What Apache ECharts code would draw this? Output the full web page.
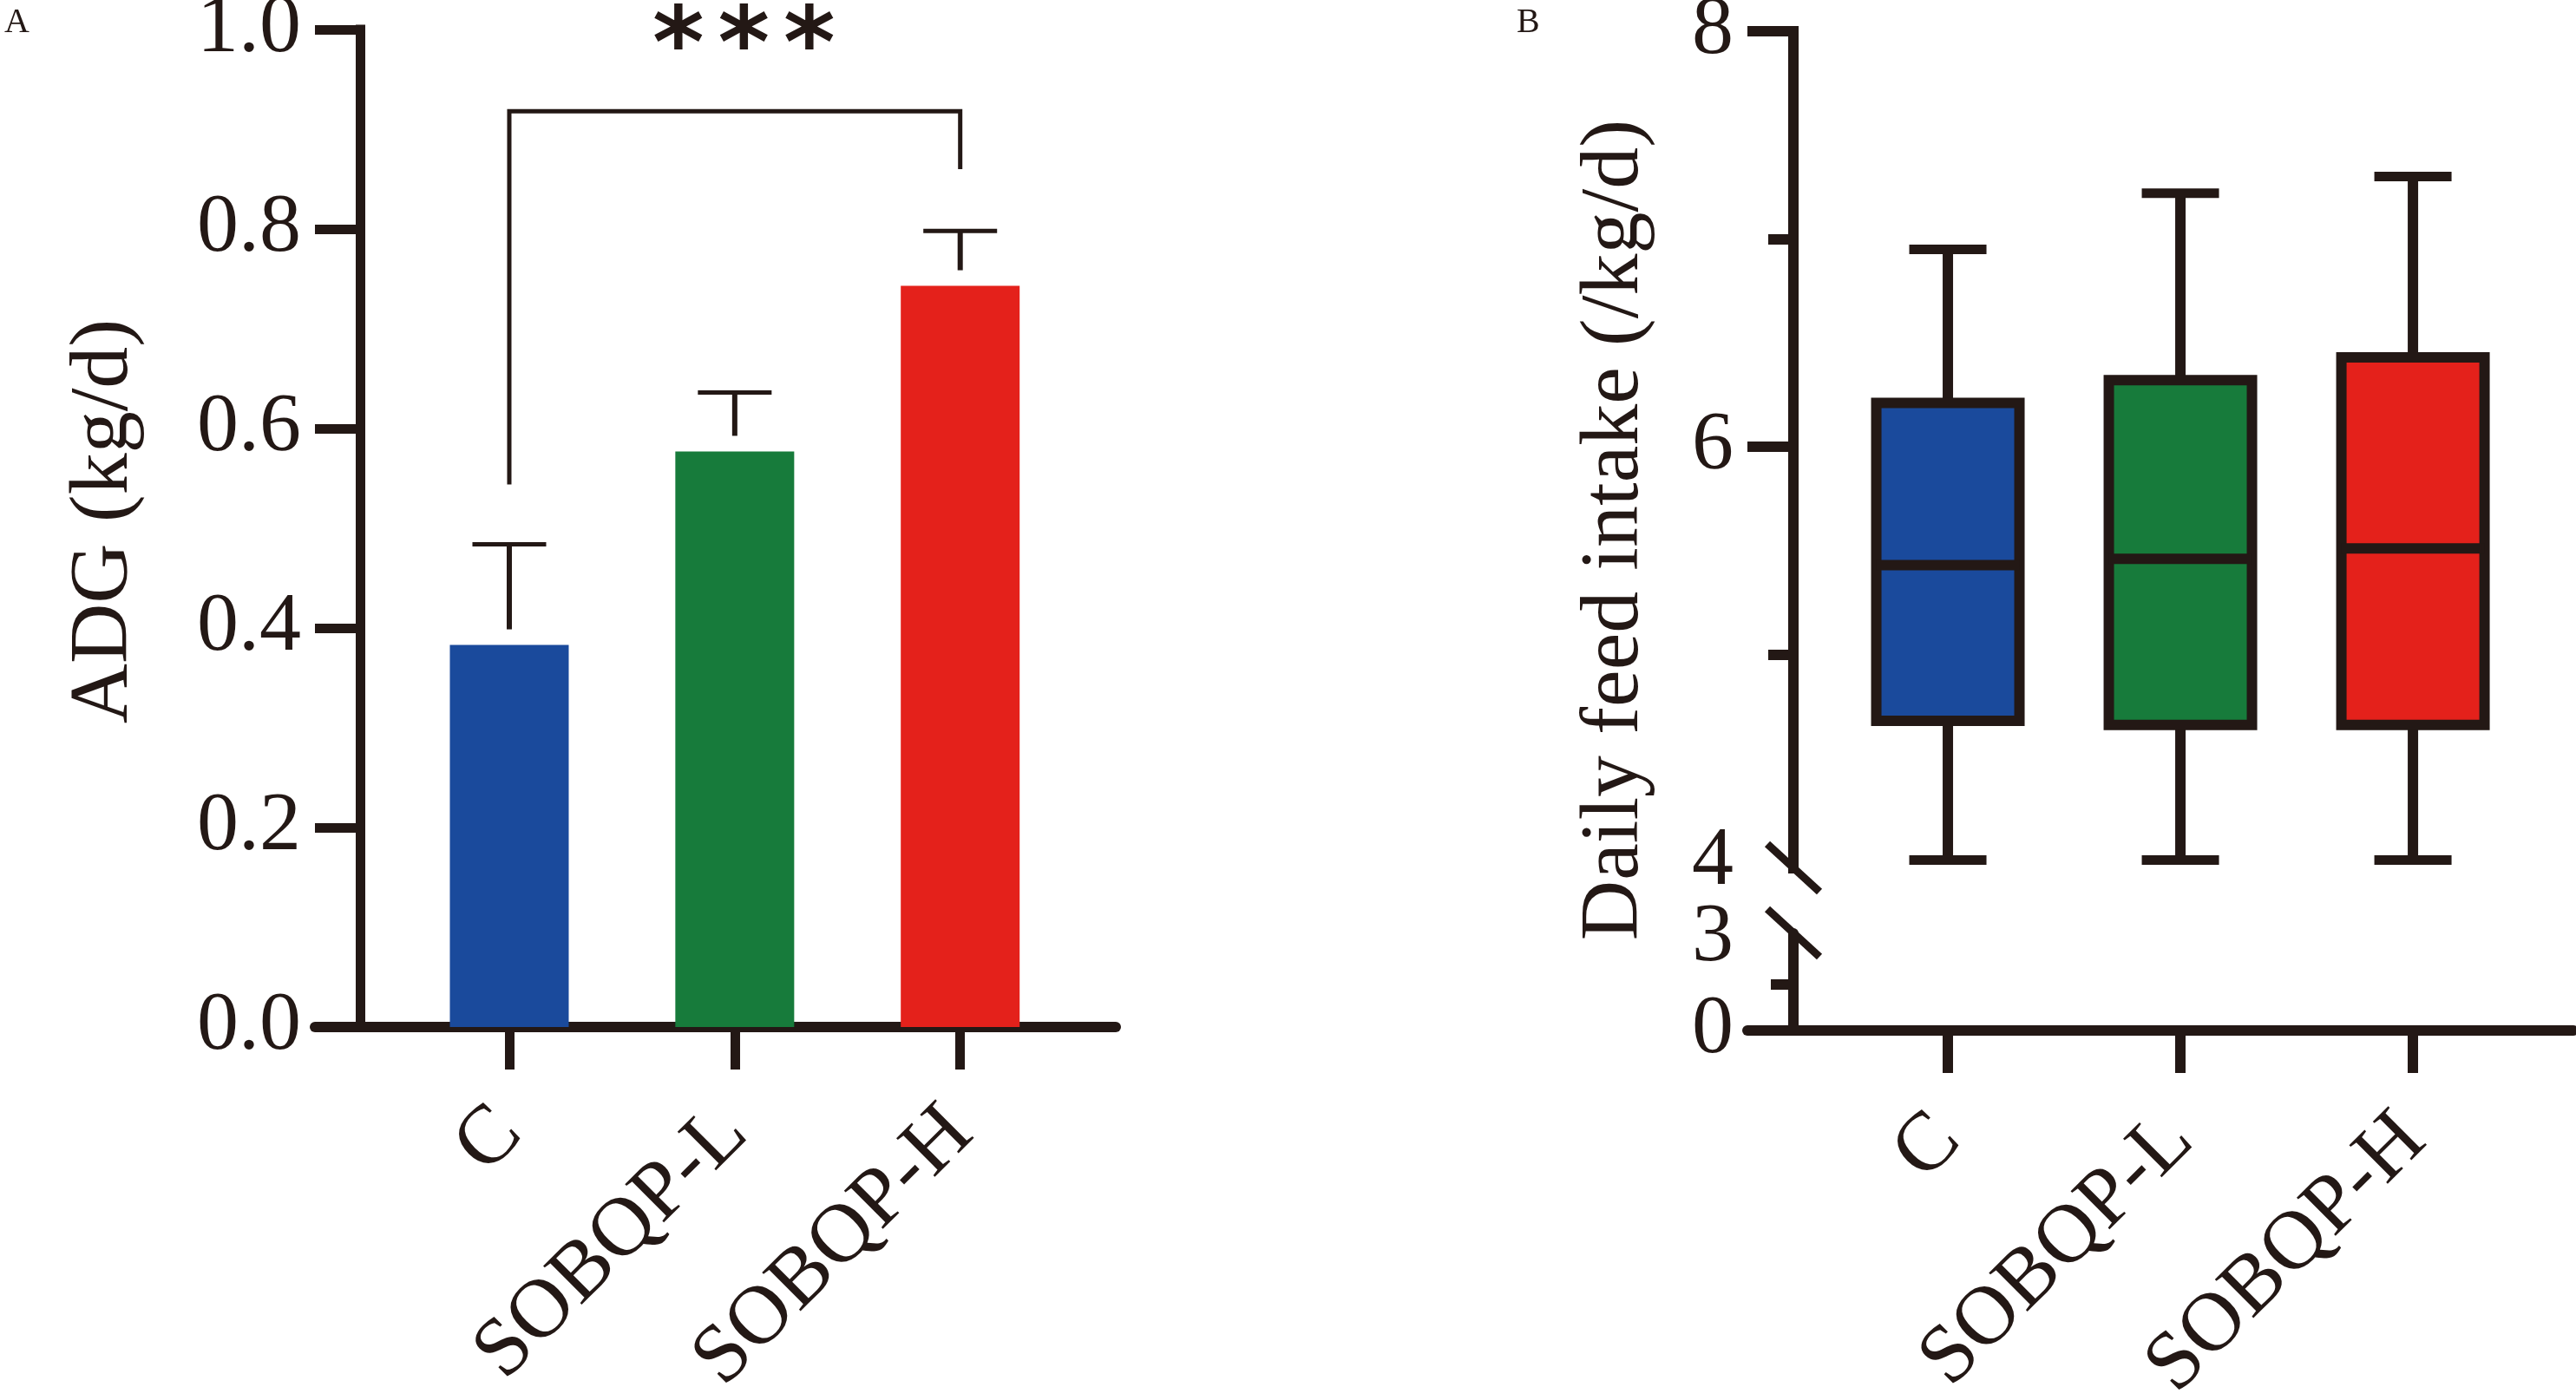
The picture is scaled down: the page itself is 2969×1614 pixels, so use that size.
<!DOCTYPE html>
<html><head><meta charset="utf-8">
<script src="https://cdn.jsdelivr.net/npm/echarts@6/dist/echarts.min.js"></script>
<style>html,body{margin:0;padding:0;background:#fff}#c{width:2969px;height:1614px}</style>
</head><body><div id="c"></div>
<script>
// ---------- data ----------
const categories = ['C', 'SOBQP-L', 'SOBQP-H'];
// Panel A: average daily gain (mean and upper SD end)
const adgMean  = [0.383, 0.577, 0.743];
const adgUpper = [0.484, 0.636, 0.798];
const adgTicks = [0, 0.2, 0.4, 0.6, 0.8, 1.0];
// significance bracket between C and SOBQP-H
const sigFrom = 1, sigTo = 3;
const sigLeftY = 0.544, sigRightY = 0.860, sigTopY = 0.918;
const sigLabel = ['*', '*', '*'];
const sigLabelX = 2.04, sigLabelY = 0.993;
// Panel B: daily feed intake box plot
const dfiMin    = [4.01, 4.01, 4.01];
const dfiQ1     = [4.68, 4.66, 4.66];
const dfiMedian = [5.43, 5.46, 5.51];
const dfiQ3     = [6.21, 6.32, 6.43];
const dfiMax    = [6.95, 7.22, 7.30];
const dfiUpperLabels = [4, 6, 8];
const dfiUpperMajorTicks = [6, 8];
const dfiUpperMinorTicks = [5, 7];
const dfiLowerLabels = [0, 3];
const dfiLowerTicks = [1.5];

// ---------- style ----------
const ink = '#231815';
const colors = ['#1a4a9c', '#177b3b', '#e4211b'];
const serif = '"Liberation Serif", "Times New Roman", serif';
const catPos = categories.map((c, i) => i + 1);

const chart = echarts.init(document.getElementById('c'), null, {renderer: 'canvas'});

function catAxis(grid, margin, tickW, show) {
  return {
    gridIndex: grid, type: 'value', min: 0.138, max: 3.69, show: show,
    splitLine: {show: false},
    axisLine: {show: true, lineStyle: {color: ink, width: 12}},
    axisTick: {show: true, customValues: catPos, length: 49, lineStyle: {color: ink, width: tickW}},
    axisLabel: {show: true, customValues: catPos, rotate: 45, margin: margin,
      formatter: v => categories[Math.round(v) - 1] || '',
      fontFamily: serif, fontSize: 96, color: ink}
  };
}

const option = {
  backgroundColor: '#fff',
  animation: false,
  grid: [
    {left: 363, top: 34, width: 923, height: 1150, outerBoundsMode: 'none', containLabel: false},
    {left: 2014, top: 36, width: 952, height: 965, outerBoundsMode: 'none', containLabel: false},
    {left: 2014, top: 1076, width: 952, height: 112, outerBoundsMode: 'none', containLabel: false}
  ],
  xAxis: [catAxis(0, 108, 11, true), catAxis(1, 108, 12, false), catAxis(2, 112, 12, true)],
  yAxis: [
    {gridIndex: 0, type: 'value', position: 'left', min: 0, max: 1, interval: 0.2, offset: -52,
     splitLine: {show: false},
     axisLine: {show: true, lineStyle: {color: ink, width: 11, cap: 'square'}},
     axisTick: {show: true, length: 52, lineStyle: {color: ink, width: 11}},
     axisLabel: {margin: 68, fontFamily: serif, fontSize: 96, color: ink, formatter: v => v.toFixed(1)}},
    {gridIndex: 1, type: 'value', position: 'left', min: 3.97, max: 8, offset: -53,
     splitLine: {show: false},
     axisLine: {show: true, lineStyle: {color: ink, width: 12, cap: 'square'}},
     axisTick: {show: true, customValues: dfiUpperMajorTicks, length: 53, lineStyle: {color: ink, width: 12}},
     axisLabel: {show: true, customValues: dfiUpperLabels, margin: 69, fontFamily: serif, fontSize: 96, color: ink}},
    {gridIndex: 1, type: 'value', position: 'left', min: 3.97, max: 8, offset: -53,
     splitLine: {show: false},
     axisLine: {show: false},
     axisTick: {show: true, customValues: dfiUpperMinorTicks, length: 29, lineStyle: {color: ink, width: 12}},
     axisLabel: {show: false}},
    {gridIndex: 2, type: 'value', position: 'left', min: 0, max: 3.17, offset: -53,
     splitLine: {show: false},
     axisLine: {show: true, lineStyle: {color: ink, width: 12}},
     axisTick: {show: true, customValues: dfiLowerTicks, length: 26, lineStyle: {color: ink, width: 12}},
     axisLabel: {show: true, customValues: dfiLowerLabels, showMinLabel: true, hideOverlap: false,
       margin: 69, fontFamily: serif, fontSize: 96, color: ink}}
  ],
  series: [
    {
      type: 'bar', xAxisIndex: 0, yAxisIndex: 0, barWidth: 137,
      data: categories.map((c, i) => ({value: [i + 1, adgMean[i]], itemStyle: {color: colors[i]}}))
    },
    {
      type: 'custom', xAxisIndex: 0, yAxisIndex: 0,
      data: categories.map((c, i) => [i + 1, adgMean[i], adgUpper[i]]),
      renderItem(params, api) {
        const x = api.value(0), m = api.value(1), u = api.value(2);
        const pt = api.coord([x, u]), pb = api.coord([x, m]);
        return {type: 'group', children: [
          {type: 'line', shape: {x1: pt[0], y1: pt[1], x2: pt[0], y2: pb[1] - 18}, style: {stroke: ink, lineWidth: 6}},
          {type: 'line', shape: {x1: pt[0] - 42.5, y1: pt[1], x2: pt[0] + 42.5, y2: pt[1]}, style: {stroke: ink, lineWidth: 5}}
        ]};
      }
    },
    {
      type: 'custom', xAxisIndex: 0, yAxisIndex: 0,
      data: [[sigFrom, sigTo, sigLeftY, sigRightY, sigTopY, sigLabelX, sigLabelY]],
      renderItem(params, api) {
        const a = api.coord([api.value(0), api.value(2)]);
        const b = api.coord([api.value(0), api.value(4)]);
        const c = api.coord([api.value(1), api.value(4)]);
        const d = api.coord([api.value(1), api.value(3)]);
        const s = api.coord([api.value(5), api.value(6)]);
        const children = [{type: 'polyline', shape: {points: [a, b, c, d]},
          style: {stroke: ink, lineWidth: 5, fill: null, lineJoin: 'miter'}}];
        sigLabel.forEach((t, k) => {
          children.push({type: 'text', x: s[0] + (k - 1) * 75.5, y: s[1] + 17,
            style: {text: t, font: 'bold 114px "DejaVu Sans", sans-serif', fill: ink, align: 'center', verticalAlign: 'middle'}});
        });
        return {type: 'group', children};
      }
    },
    {
      type: 'custom', xAxisIndex: 1, yAxisIndex: 1,
      data: categories.map((c, i) => [i + 1, dfiMin[i], dfiQ1[i], dfiMedian[i], dfiQ3[i], dfiMax[i]]),
      renderItem(params, api) {
        const x = api.value(0);
        const pMin = api.coord([x, api.value(1)]), pQ1 = api.coord([x, api.value(2)]),
              pMed = api.coord([x, api.value(3)]), pQ3 = api.coord([x, api.value(4)]),
              pMax = api.coord([x, api.value(5)]);
        const cx = pMin[0], hw = 82.5, cw = 44.5;
        const ls = {stroke: ink, lineWidth: 12};
        return {type: 'group', children: [
          {type: 'line', shape: {x1: cx, y1: pMax[1], x2: cx, y2: pQ3[1]}, style: ls},
          {type: 'line', shape: {x1: cx, y1: pQ1[1], x2: cx, y2: pMin[1]}, style: ls},
          {type: 'line', shape: {x1: cx - cw, y1: pMax[1], x2: cx + cw, y2: pMax[1]}, style: {stroke: ink, lineWidth: 11}},
          {type: 'line', shape: {x1: cx - cw, y1: pMin[1], x2: cx + cw, y2: pMin[1]}, style: {stroke: ink, lineWidth: 11}},
          {type: 'rect', shape: {x: cx - hw, y: pQ3[1], width: 2 * hw, height: pQ1[1] - pQ3[1]},
           style: {fill: colors[params.dataIndex], stroke: ink, lineWidth: 12}},
          {type: 'line', shape: {x1: cx - hw, y1: pMed[1], x2: cx + hw, y2: pMed[1]}, style: ls}
        ]};
      }
    }
  ],
  graphic: [
    {type: 'text', left: 5, top: 6, style: {text: 'A', font: '40px ' + serif, fill: ink}},
    {type: 'text', left: 1748, top: 6, style: {text: 'B', font: '40px ' + serif, fill: ink}},
    {type: 'text', x: 121, y: 601, rotation: Math.PI / 2,
     style: {text: 'ADG (kg/d)', font: '96px ' + serif, fill: ink, align: 'center', verticalAlign: 'middle'}},
    {type: 'text', x: 1862, y: 611, rotation: Math.PI / 2,
     style: {text: 'Daily feed intake (/kg/d)', font: '96px ' + serif, fill: ink, align: 'center', verticalAlign: 'middle'}},
    {type: 'line', shape: {x1: 2037, y1: 973, x2: 2097, y2: 1028}, style: {stroke: ink, lineWidth: 9}},
    {type: 'line', shape: {x1: 2037, y1: 1048, x2: 2097, y2: 1103}, style: {stroke: ink, lineWidth: 9}}
  ]
};
chart.setOption(option);
</script>
</body></html>
